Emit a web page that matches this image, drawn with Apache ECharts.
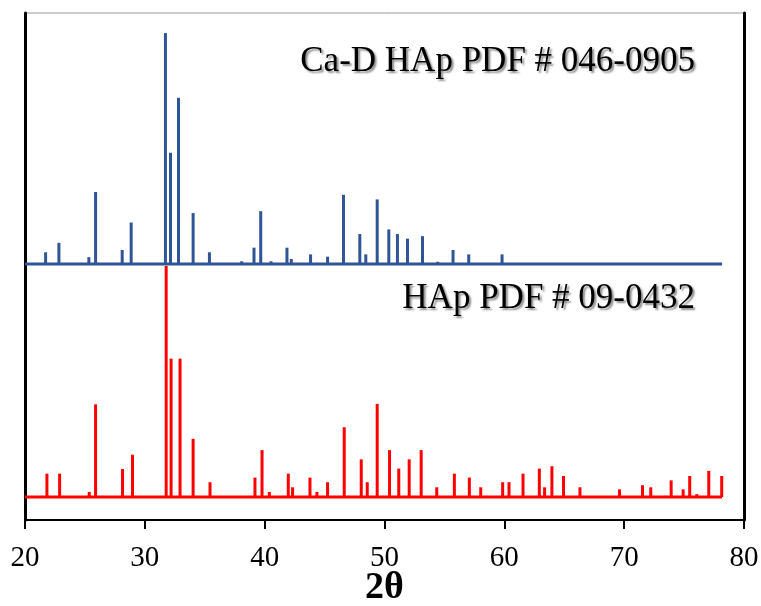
<!DOCTYPE html>
<html>
<head>
<meta charset="utf-8">
<script src="https://cdn.jsdelivr.net/npm/echarts@6/dist/echarts.min.js"></script>
<style>html,body{margin:0;padding:0;background:#fff}#c{width:761px;height:606px}</style>
</head>
<body>
<div id="c"></div>
<script>
// Ca-D HAp PDF # 046-0905 (blue) : 2θ positions and relative intensities
const blueTheta = [21.72, 22.83, 25.33, 25.89, 28.11, 28.86, 31.72, 32.14, 32.81, 34.03, 35.39, 38.08, 39.11, 39.67, 40.53, 41.86, 42.22, 43.83, 45.25, 46.58, 47.94, 48.44, 49.39, 50.36, 51.08, 51.92, 53.17, 54.44, 55.72, 57.03, 59.81];
const blueInt   = [5.1, 9.2, 3.0, 31.2, 6.1, 18.0, 100, 48.2, 72, 22.1, 5.1, 1.2, 7.1, 22.9, 1.2, 7.1, 2.2, 4.2, 3.2, 30, 13, 4.2, 28, 15, 13, 11, 12.1, 1.0, 6.1, 4.2, 4.2];
// HAp PDF # 09-0432 (red)
const redTheta = [21.83, 22.89, 25.36, 25.89, 28.14, 28.97, 31.78, 32.19, 32.94, 34.03, 35.44, 39.19, 39.78, 40.39, 41.97, 42.33, 43.78, 44.36, 45.25, 46.64, 48.06, 48.56, 49.39, 50.42, 51.19, 52.06, 53.06, 54.36, 55.83, 57.08, 58.03, 59.86, 60.39, 61.56, 62.92, 63.36, 63.97, 64.94, 66.31, 69.61, 71.53, 72.22, 73.92, 74.92, 75.47, 76.06, 77.06, 78.14];
const redInt   = [10.1, 10.1, 2.2, 40.1, 12.1, 18.3, 100, 59.9, 59.9, 25.2, 6.4, 8.4, 20.3, 2.2, 10.1, 4.2, 8.4, 2.2, 6.4, 30.2, 16.3, 6.4, 40.3, 20.3, 12.3, 16.3, 20.3, 4.2, 10.1, 8.4, 4.2, 6.4, 6.4, 10.1, 12.3, 4.2, 13.3, 9.1, 4.2, 3.3, 5.1, 4.2, 7.2, 3.3, 9.1, 1.2, 11.3, 9.1];
// pattern offsets (stacking) and range
const blueOffset = 110.8;
const redOffset = 9.96;
const baseStart = 20;
const baseEnd = 78.17;
const xTicks = [20, 30, 40, 50, 60, 70, 80];
const labelBlue = 'Ca-D HAp PDF # 046-0905';
const labelRed = 'HAp PDF # 09-0432';

const BLUE = '#2F5597';
const RED = '#FF0000';
const FONT = '"Liberation Serif", "Times New Roman", serif';

function sticks(theta, inten, base, color, z) {
  return {
    type: 'custom',
    z: z,
    data: theta.map((t, i) => [t, inten[i]]),
    renderItem: function (params, api) {
      const x = api.value(0), h = api.value(1);
      const p0 = api.coord([x, base]);
      const p1 = api.coord([x, base + h]);
      return { type: 'line', shape: { x1: p0[0], y1: p0[1], x2: p1[0], y2: p1[1] },
               style: { stroke: color, lineWidth: 3 } };
    }
  };
}
function baseline(base, color, z) {
  return {
    type: 'line', z: z, symbol: 'none', silent: true,
    data: [[baseStart, base], [baseEnd, base]],
    lineStyle: { color: color, width: 3 }
  };
}

const chart = echarts.init(document.getElementById('c'));
chart.setOption({
  animation: false,
  backgroundColor: '#fff',
  grid: { left: 25, right: 17, top: 13, bottom: 86, show: true, borderColor: '#999', borderWidth: 1,
          containLabel: false, outerBoundsMode: 'none' },
  xAxis: [{
    type: 'value', min: 20, max: 80, interval: 10,
    axisLine: { show: true, lineStyle: { color: '#000', width: 2 } },
    axisTick: { show: true, inside: false, length: 9, lineStyle: { color: '#000', width: 2 } },
    axisLabel: { color: '#000', fontFamily: FONT, fontSize: 29, margin: 24,
      formatter: v => xTicks.includes(v) ? String(v) : '' },
    splitLine: { show: false },
    name: '2θ', nameLocation: 'middle', nameGap: 49, nameMoveOverlap: false,
    nameTextStyle: { color: '#000', fontFamily: FONT, fontSize: 38, fontWeight: 'bold' }
  }],
  yAxis: [{
    type: 'value', min: 0, max: 219.5, position: 'left',
    axisLine: { show: true, lineStyle: { color: '#000', width: 3 } },
    axisTick: { show: false }, axisLabel: { show: false }, splitLine: { show: false }
  }, {
    type: 'value', min: 0, max: 219.5, position: 'right',
    axisLine: { show: true, lineStyle: { color: '#000', width: 3 } },
    axisTick: { show: false }, axisLabel: { show: false }, splitLine: { show: false }
  }],
  series: [
    baseline(redOffset, RED, 2),
    sticks(redTheta, redInt, redOffset, RED, 2),
    baseline(blueOffset, BLUE, 3),
    sticks(blueTheta, blueInt, blueOffset, BLUE, 3)
  ],
  graphic: [
    { type: 'text', right: 66, top: 44, style: { text: labelBlue, fill: '#000', font: '35px ' + FONT,
      textShadowColor: 'rgba(0,0,0,0.45)', textShadowBlur: 2, textShadowOffsetX: 2, textShadowOffsetY: 2 } },
    { type: 'text', right: 66, top: 281, style: { text: labelRed, fill: '#000', font: '35px ' + FONT,
      textShadowColor: 'rgba(0,0,0,0.45)', textShadowBlur: 2, textShadowOffsetX: 2, textShadowOffsetY: 2 } }
  ]
});
</script>
</body>
</html>
